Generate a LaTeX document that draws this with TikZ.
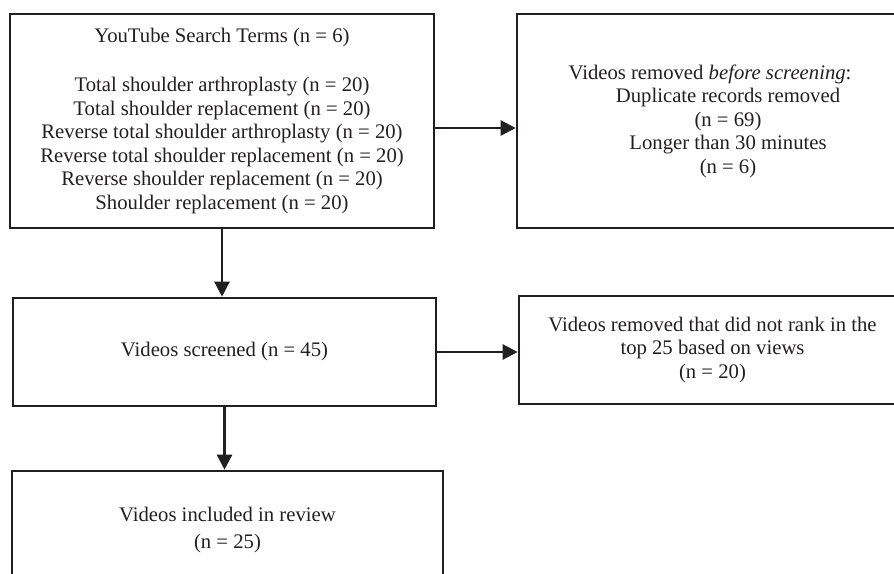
\documentclass[tikz,border=0pt]{standalone}
\usepackage{fontspec}
\setmainfont{Liberation Serif}
\usetikzlibrary{arrows.meta}
\definecolor{ink}{RGB}{35,31,32}

\begin{document}
\begin{tikzpicture}[x=1pt,y=-1pt,
	box/.style={draw=ink,line width=2.6pt,align=center,text=ink,inner sep=0pt,
		font=\fontsize{20.7}{23.5}\selectfont},
	flow/.style={draw=ink,line width=2.4pt,-{Triangle[length=15pt,width=15pt]}}]
		\useasboundingbox (0,0) rectangle (894,573);
		\clip (0,0) rectangle (894,573);
		
		\node[box,minimum width=424,minimum height=214] (terms) at (222,121)
		{YouTube Search Terms (n = 6)\\[26pt]
		Total shoulder arthroplasty (n = 20)\\
		Total shoulder replacement (n = 20)\\
		Reverse total shoulder arthroplasty (n = 20)\\
		Reverse total shoulder replacement (n = 20)\\
		Reverse shoulder replacement (n = 20)\\
		Shoulder replacement (n = 20)};
		\node[box,minimum width=422,minimum height=214] (removed) at (728,121)
		{Videos removed \textit{before screening}:\rule{36pt}{0pt}\\
		Duplicate records removed\\
		(n = 69)\\
		Longer than 30 minutes\\
		(n = 6)};
		
		\node[box,minimum width=423,minimum height=108] (screened) at (224.5,352)
		{Videos screened (n = 45)};
		\node[box,minimum width=387,minimum height=108] (cut) at (712.5,350)
		{Videos removed that did not rank in the\\
		top 25 based on views\\
		(n = 20)};
		
		\node[box,minimum width=431,minimum height=118] (included) at (227.5,530)
		{Videos included in review\\[3pt]
		(n = 25)};
		
		\coordinate (t1) at ([yshift=-7pt]terms.east);
		\draw[flow] (t1) -- (t1 -| removed.west);
		\draw[flow] (terms.south) -- (terms.south |- screened.north);
		\draw[flow] (screened.east) -- (screened.east -| cut.west);
		\draw[flow] (screened.south) -- (screened.south |- included.north);
\end{tikzpicture}
\end{document}
